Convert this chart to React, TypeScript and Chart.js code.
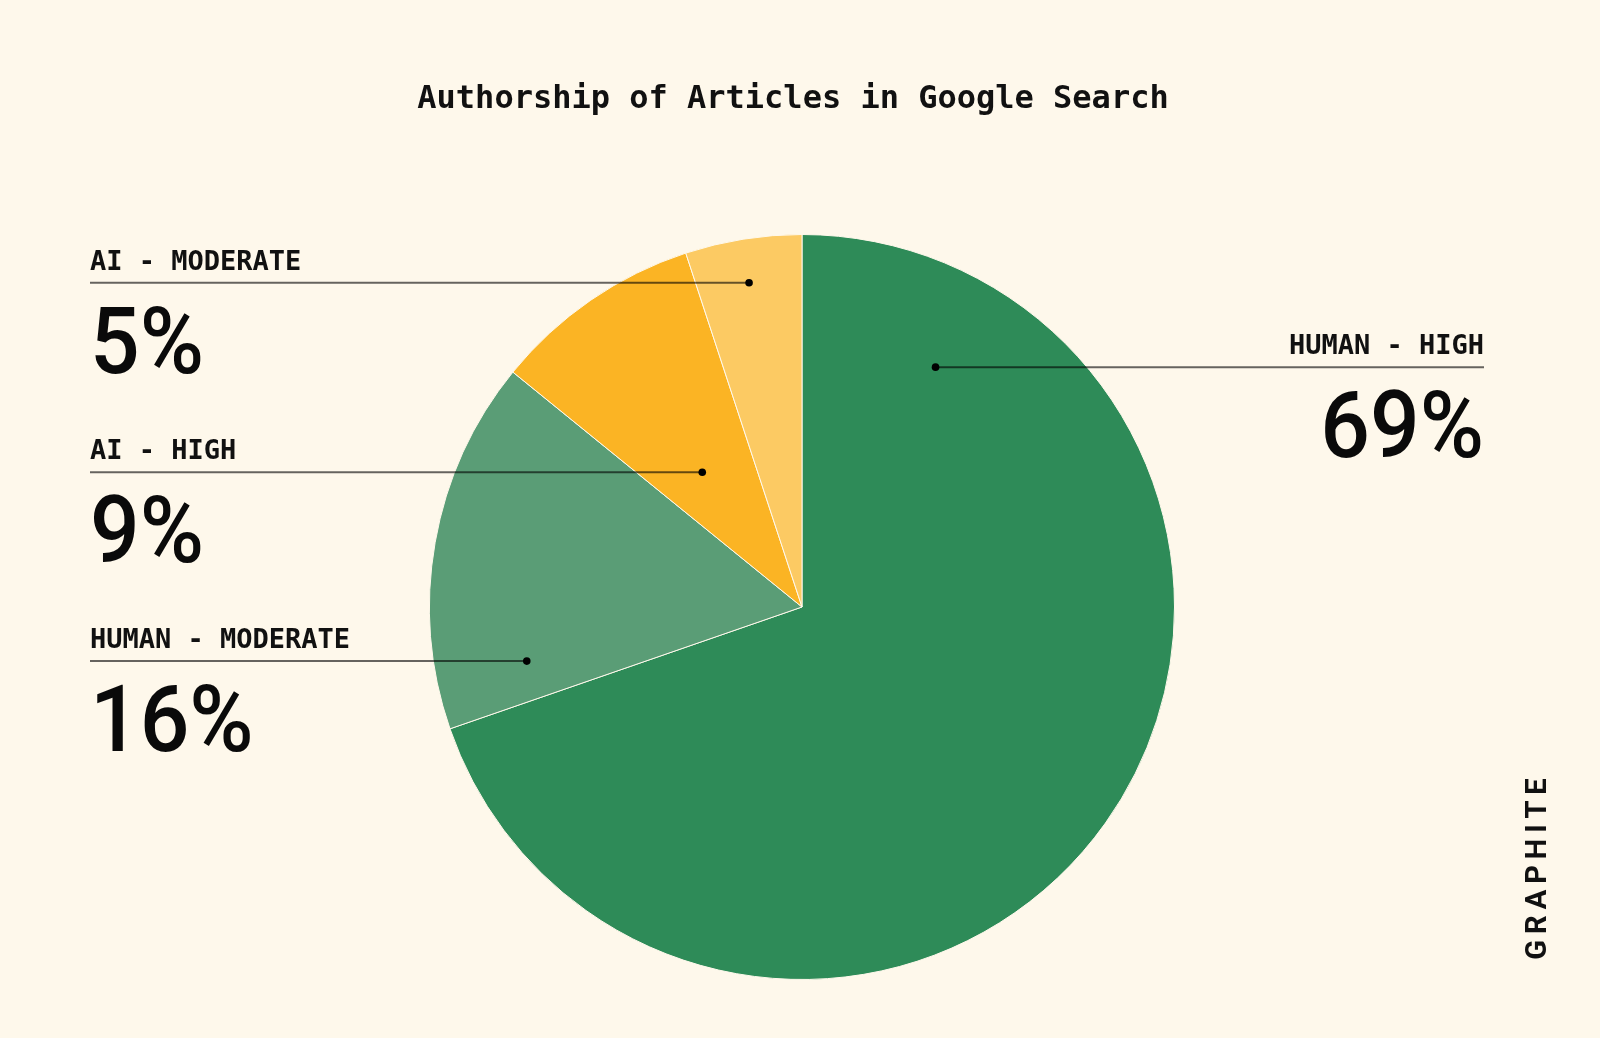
import React, { useRef, useEffect } from 'react';
import Chart from 'chart.js/auto';

const labels = ['HUMAN - HIGH', 'HUMAN - MODERATE', 'AI - HIGH', 'AI - MODERATE'];
const values = [69, 16, 9, 5];
const sliceColors = ['#2E8B58', '#5A9D76', '#FBB424', '#FCCA63'];

// where the leader dot sits inside each slice: fraction of the slice's angle, fraction of the radius
const dotAngleFrac = [0.116, 0.137, 0.44, 0.49];
const dotRadiusFrac = [0.737, 0.753, 0.45, 0.882];
const labelSide = ['right', 'left', 'left', 'left'];

const BG = '#FEF8EB';
const TITLE = 'Authorship of Articles in Google Search';

const calloutPlugin = {
    id: 'callouts',
    afterDraw(chart: any) {
        const ctx = chart.ctx as CanvasRenderingContext2D;
        const arcs = chart.getDatasetMeta(0).data;

        ctx.save();
        ctx.fillStyle = '#111';
        ctx.font = 'bold 32px "DejaVu Sans Mono"';
        ctx.textAlign = 'center';
        ctx.textBaseline = 'alphabetic';
        ctx.fillText(TITLE, 793, 108);

        arcs.forEach((arc: any, i: number) => {
            const a = arc.startAngle + (arc.endAngle - arc.startAngle) * dotAngleFrac[i];
            const r = arc.outerRadius * dotRadiusFrac[i];
            const dx = arc.x + Math.cos(a) * r;
            const dy = arc.y + Math.sin(a) * r;
            const left = labelSide[i] === 'left';
            const textX = left ? 90 : 1484;

            ctx.strokeStyle = 'rgba(0,0,0,0.6)';
            ctx.lineWidth = 2;
            ctx.beginPath();
            ctx.moveTo(textX, dy);
            ctx.lineTo(dx, dy);
            ctx.stroke();

            ctx.fillStyle = '#000';
            ctx.beginPath();
            ctx.arc(dx, dy, 3.8, 0, Math.PI * 2);
            ctx.fill();

            ctx.fillStyle = '#111';
            ctx.textAlign = left ? 'left' : 'right';
            ctx.font = 'bold 27px "DejaVu Sans Mono"';
            ctx.fillText(labels[i], textX, dy - 13);

            ctx.save();
            ctx.translate(textX, dy + 90);
            ctx.scale(0.95, 1);
            ctx.font = '500 92px Roboto';
            ctx.fillStyle = '#0a0a0a';
            ctx.fillText(values[i] + '%', 0, 0);
            ctx.restore();
        });

        ctx.save();
        ctx.translate(1539, 866);
        ctx.rotate(-Math.PI / 2);
        ctx.font = 'bold 29px Roboto';
        (ctx as any).letterSpacing = '6px';
        ctx.textAlign = 'center';
        ctx.textBaseline = 'middle';
        ctx.fillStyle = '#111';
        ctx.fillText('GRAPHITE', 0, 0);
        ctx.restore();

        ctx.restore();
    },
};

const AuthorshipPie: React.FC = () => {
    const chartRef = useRef<HTMLCanvasElement>(null);

    useEffect(() => {
        const ctx = chartRef.current?.getContext('2d');
        if (!ctx) return;

        const chart = new Chart(ctx, {
            type: 'pie',
            data: {
                labels: labels,
                datasets: [
                    {
                        data: values,
                        backgroundColor: sliceColors,
                        borderColor: BG,
                        borderWidth: 1,
                    }
                ]
            },
            options: {
                responsive: false,
                maintainAspectRatio: false,
                animation: false,
                layout: {
                    padding: { top: 234, bottom: 58, left: 429, right: 425 }
                },
                plugins: {
                    legend: { display: false },
                    tooltip: { enabled: false },
                    title: { display: false }
                }
            },
            plugins: [calloutPlugin]
        });

        return () => chart.destroy();
    }, []);

    return <canvas ref={chartRef} width={1600} height={1038} style={{ display: 'block' }}/>;
};

export default function App() {
    return (
        <div style={{ position: 'absolute', left: 0, top: 0, width: 1600, height: 1038, background: BG }}>
            <AuthorshipPie/>
        </div>
    );
}
